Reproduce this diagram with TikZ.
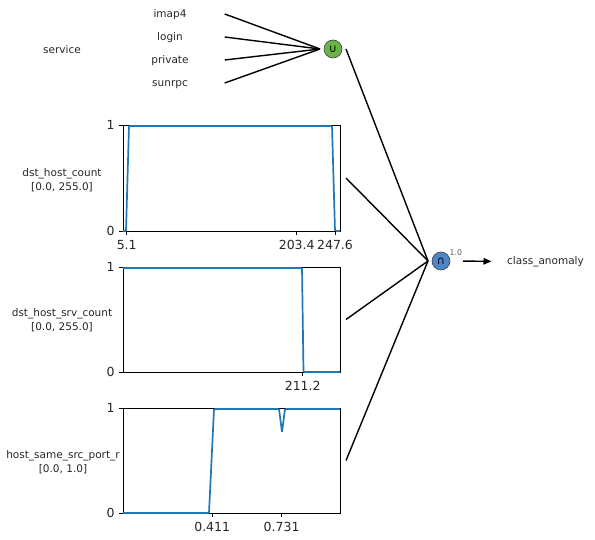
\documentclass[tikz,border=0pt]{standalone}
\usepackage{fontspec}
\setmainfont{DejaVu Sans}
\usetikzlibrary{arrows.meta}

\definecolor{mplblue}{HTML}{1F77B4}
\definecolor{unionfill}{HTML}{6AB344}
\definecolor{interfill}{HTML}{4A86C8}

\begin{document}
\begin{tikzpicture}[x=1pt,y=-1pt]
        \useasboundingbox (0,0) rectangle (595,540);
        \tikzstyle{every path}=[line width=1.4pt]

        \tikzstyle{lbl}=[font=\fontsize{10.5}{14}\selectfont, align=center, inner sep=0, text=black!85]
        \tikzstyle{cat}=[lbl, minimum width=108pt, text height=9pt, text depth=1pt]
        \tikzstyle{op}=[circle, draw=black!75, line width=0.6pt, minimum size=18pt, inner sep=0, outer sep=4pt, font=\fontsize{11}{11}\selectfont]
        \tikzstyle{axesbox}=[draw, line width=0.8pt, fill=white, minimum width=217pt, minimum height=106pt, inner sep=0, outer sep=0, anchor=north west]
        \tikzstyle{tick}=[font=\fontsize{12.5}{14}\selectfont, inner sep=0, text=black!85]
        \tikzstyle{tickmark}=[line width=0.8pt]
        \tikzstyle{mf}=[mplblue, line width=1.7pt, rounded corners=1pt]

        % feature labels
        \node [lbl] (service) at (62,49.5) {service};
        \node [lbl] (count) at (62,180) {dst\_host\_count\\{[0.0, 255.0]}};
        \node [lbl] (srvcount) at (62,320.5) {dst\_host\_srv\_count\\{[0.0, 255.0]}};
        \node [lbl] (samesrc) at (63,462.5) {host\_same\_src\_port\_r\\{[0.0, 1.0]}};

        % categories of service
        \foreach \name [count=\i] in {imap4,login,private,sunrpc} {
            \node [cat] (\name) at (170,{14+23*(\i-1)}) {\name};
        };

        \node [op, fill=unionfill] (union) at (333,49) {∪};
        \node [op, fill=interfill] (inter) at (441,261) {∩};
        \node [inner sep=0, anchor=south west, font=\fontsize{7.8}{8}\selectfont, text=black!65] (weight) at (449,256.5) {1.0};
        \node [lbl] (cls) at (545.5,261.5) {class\_anomaly};

        % membership plots
        \node [axesbox] (mf1) at (123,125) {};
        \node [axesbox, minimum height=105pt] (mf2) at (123,267) {};
        \node [axesbox, minimum height=105pt] (mf3) at (123,408) {};

        \draw [mf] (123,231) -- (126,231) -- (129,126) -- (332,126) -- (335,231) -- (340,231);
        \draw [mf] (123,268) -- (302,268) -- (303.5,372) -- (340,372);
        \draw [mf] (123,513) -- (209,513) -- (214,409) -- (279,409) -- (282,432) -- (285,409) -- (340,409);

        % y ticks
        \foreach \m in {mf1,mf2,mf3} {
            \draw [tickmark] (\m.north west) -- ++(-4,0) node [tick, left=4pt] {1};
            \draw [tickmark] (\m.south west) -- ++(-4,0) node [tick, left=4pt] {0};
        };

        % x ticks
        \foreach \x/\y/\v in {126.7/231/5.1, 296.7/231/203.4, 335/231/247.6, 302.7/372/211.2, 212.2/513/0.411, 281.6/513/0.731} {
            \draw [tickmark] (\x,\y) -- ++(0,4) node [tick, below=5pt] {\v};
        };

        \foreach \name in {imap4,login,private,sunrpc} {
            \draw (\name.east) -- (union.west);
        };

        \draw (union.east) -- (inter.west);
        \draw ([xshift=6pt]mf1.east) -- (inter.west);
        \draw ([xshift=6pt]mf2.east) -- (inter.west);
        \draw ([xshift=6pt]mf3.east) -- (inter.west);
        \draw [-{Triangle[length=8pt,width=6.5pt]}, shorten <=9pt, shorten >=15pt] (inter.east) -- (cls.west);

\end{tikzpicture}
\end{document}
